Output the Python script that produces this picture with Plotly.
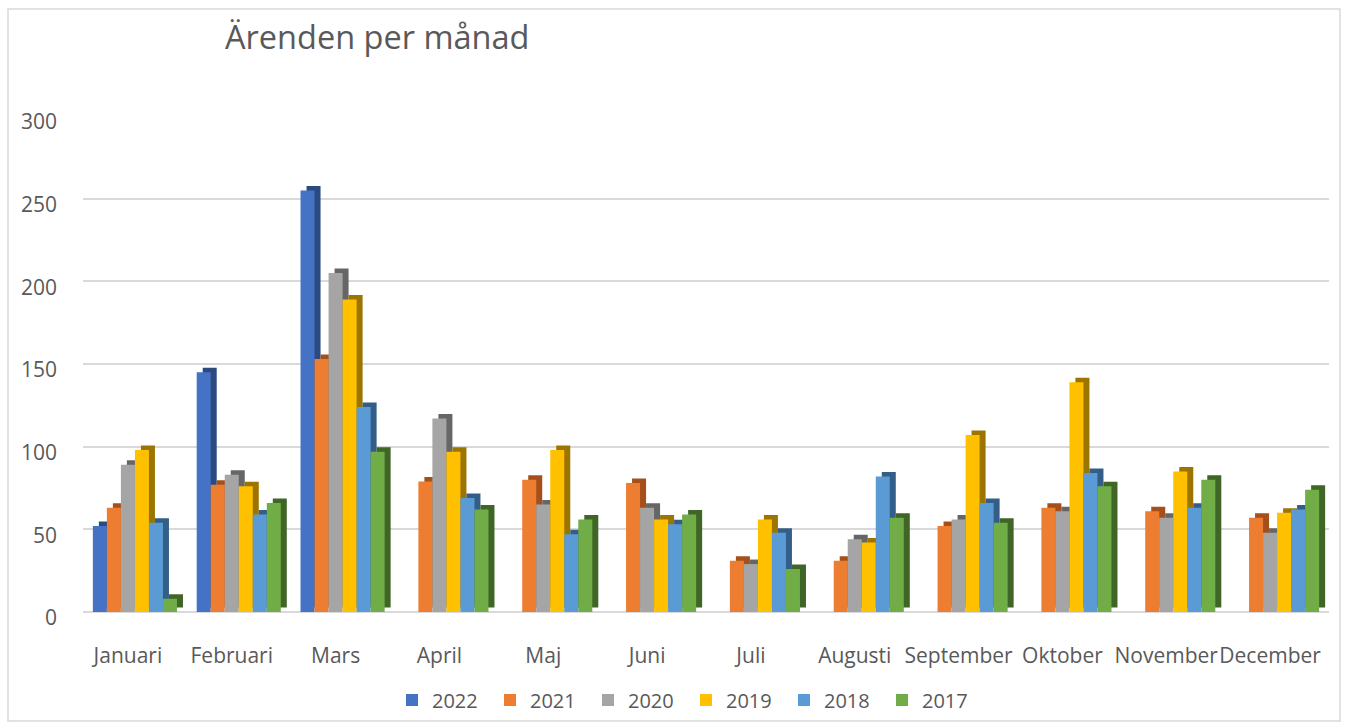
import plotly.graph_objects as go

months = ["Januari", "Februari", "Mars", "April", "Maj", "Juni", "Juli",
          "Augusti", "September", "Oktober", "November", "December"]

v2022 = [52, 145, 255, None, None, None, None, None, None, None, None, None]
v2021 = [63, 77, 153, 79, 80, 78, 31, 31, 52, 63, 61, 57]
v2020 = [89, 83, 205, 117, 65, 63, 29, 44, 56, 61, 57, 48]
v2019 = [98, 76, 189, 97, 98, 56, 56, 42, 107, 139, 85, 60]
v2018 = [54, 59, 124, 69, 47, 53, 48, 82, 66, 84, 63, 62]
v2017 = [8, 66, 97, 62, 56, 59, 26, 57, 54, 76, 80, 74]

series = [("2022", v2022, "#4472C4", "#2A4A80"),
          ("2021", v2021, "#ED7D31", "#A5501A"),
          ("2020", v2020, "#A5A5A5", "#666666"),
          ("2019", v2019, "#FFC000", "#9C7400"),
          ("2018", v2018, "#5B9BD5", "#335E87"),
          ("2017", v2017, "#70AD47", "#3F6527")]

FONT = "'Open Sans', sans-serif"
W, H = 1349, 728
ml, mr, mt, mb = 83, 20, 116, 116
pw = W - ml - mr
ph = H - mt - mb

n = len(series)
group = 0.81          # fraction of a category slot covered by the group
bw = group / n        # bar width in category units
dx = 6 * 12 / pw      # 3-D depth shift (6 px) in category units
dy = 4.5 * 300 / ph   # 3-D depth rise (4.5 px) in value units

fig = go.Figure()
# side/top "depth" faces first, so neighbouring fronts cover them
for i, (name, vals, col, dark) in enumerate(series):
    off = -group / 2 + i * bw
    fig.add_trace(go.Bar(x=months, y=vals, base=dy, offset=off + dx, width=bw,
                         marker_color=dark, marker_line_width=0,
                         showlegend=False, hoverinfo="skip"))
for i, (name, vals, col, dark) in enumerate(series):
    off = -group / 2 + i * bw
    fig.add_trace(go.Bar(x=months, y=vals, name=name, offset=off, width=bw,
                         marker_color=col, marker_line_width=0))

fig.add_shape(type="rect", xref="paper", yref="paper",
              x0=(8 - ml) / pw, x1=(1340 - ml) / pw,
              y0=(H - mb - 721) / ph, y1=(H - mb - 9) / ph,
              line=dict(color="#d9d9d9", width=1.5), layer="below")

fig.update_layout(
    width=W, height=H,
    margin=dict(l=ml, r=mr, t=mt, b=mb, autoexpand=False),
    paper_bgcolor="white", plot_bgcolor="white",
    barmode="overlay",
    font=dict(family=FONT, color="#595959", size=20),
    title=dict(text="Ärenden per månad", x=225 / W, xanchor="left",
               y=1 - 38 / H, yanchor="middle",
               font=dict(size=32.5, color="#595959", family=FONT)),
    legend=dict(orientation="h", x=(686 - ml) / pw, xanchor="center",
                y=-(700 - (H - mb)) / ph, yanchor="middle",
                font=dict(size=20, color="#595959"),
                itemwidth=30, entrywidth=53, entrywidthmode="pixels",
                traceorder="normal"),
    xaxis=dict(showgrid=False, showline=False, ticks="", ticklabelstandoff=29,
               ticklabelshift=-7, tickangle=0, automargin=False,
               tickfont=dict(size=21, color="#595959")),
    yaxis=dict(range=[0, 300], tickvals=[0, 50, 100, 150, 200, 250, 300],
               showgrid=True, gridcolor="#d9d9d9", gridwidth=1.5,
               zeroline=True, zerolinecolor="#d9d9d9", zerolinewidth=1.5,
               ticks="", ticklabelstandoff=25, ticklabelshift=6,
               automargin=False,
               tickfont=dict(size=21, color="#595959")),
)

fig.write_html("out.html", config={"displayModeBar": False},
               post_script="document.body.style.margin='0';")
